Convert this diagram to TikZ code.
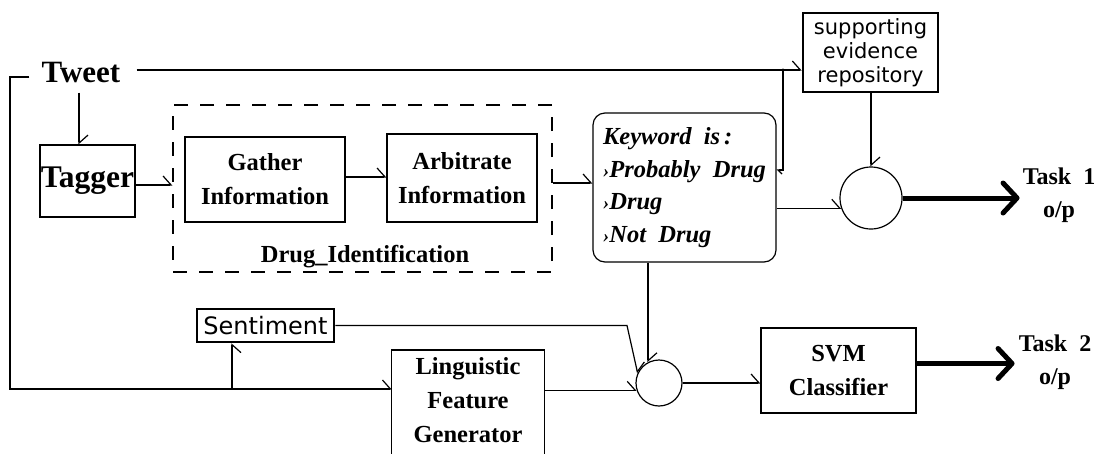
\documentclass[tikz,border=0pt]{standalone}
\usepackage{fontspec}
\setmainfont{Liberation Serif}
\newfontfamily\dvs{DejaVu Sans}
\usetikzlibrary{arrows.meta}
\newcommand\kwmark{{\fontsize{19}{19}\selectfont›}}
\begin{document}
\begin{tikzpicture}[x=1pt,y=-1pt,
  ln/.style={line width=1.2pt},
  ar/.style={ln,-{Straight Barb[harpoon,length=8pt,width=18pt,line width=1.2pt]}},
  ars/.style={ln,-{Straight Barb[harpoon,swap,length=8pt,width=18pt,line width=1.2pt]}},
  tk/.style={line width=2.6pt,-{Straight Barb[harpoon,length=8pt,width=18pt,line width=1.2pt]}},
  big/.style={line width=5pt,-{Straight Barb[length=14pt,width=30pt,line width=5pt,round]}},
  blk/.style={draw,ln,align=center,inner sep=0pt,font=\bfseries\fontsize{24.5}{34}\selectfont},
  sbox/.style={draw,line width=2.6pt,align=center,inner sep=0pt,font=\dvs\fontsize{21}{24}\selectfont},
  circ/.style={draw,ln,circle,inner sep=0pt},
  lbl/.style={align=center,inner sep=0pt,font=\bfseries\fontsize{24}{33}\selectfont}
]
\clip (0,0) rectangle (1099,453);
\fill[white] (0,0) rectangle (1099,453);

% nodes
\node[lbl,font=\bfseries\fontsize{31}{32}\selectfont] (tweet) at (81,72) {Tweet};
\node[blk,minimum width=95,minimum height=72,font=\bfseries\fontsize{31.5}{32}\selectfont] (tagger) at (87.5,181) {Tagger};
\node[draw,ln,dash pattern=on 14pt off 12pt,minimum width=379,minimum height=167,inner sep=0pt] (drugid) at (362.5,188.5) {};
\node[blk,minimum width=160,minimum height=85] (gather) at (265,179.5) {Gather\\Information};
\node[blk,minimum width=150,minimum height=88] (arb) at (462,178) {Arbitrate\\Information};
\node[lbl,font=\bfseries\fontsize{24.5}{26}\selectfont] (dlabel) at (365,257) {Drug\_Identification};
\node[draw,ln,rounded corners=12pt,minimum width=183,minimum height=149,align=left,inner sep=0pt,
      font=\bfseries\itshape\fontsize{24.5}{32.5}\selectfont] (kw) at (684.5,187.5)
      {Keyword~~is\,:\\\kwmark Probably~~Drug\\\kwmark Drug\\\kwmark Not~~Drug};
\node[sbox,minimum width=135,minimum height=79] (sup) at (870.5,52.5) {supporting\\evidence\\repository};
\node[circ,minimum size=62] (c1) at (871,198) {};
\node[lbl] (t1) at (1059,195) {Task~~1\\o/p};
\node[sbox,minimum width=137,minimum height=33,font=\dvs\fontsize{24}{26}\selectfont] (sent) at (265.5,325.5) {Sentiment};
\node[lbl,font=\bfseries\fontsize{24.5}{34}\selectfont,minimum width=152,minimum height=100,anchor=north] (ling) at (468,350) {Linguistic\\Feature\\Generator};
\draw[ln] ([yshift=-20pt]ling.south west) -- (ling.north west) -- (ling.north east) -- ([yshift=-20pt]ling.south east);
\node[circ,minimum size=46] (c2) at (659,383) {};
\node[blk,minimum width=155,minimum height=85] (svm) at (838.5,370.5) {SVM\\Classifier};
\node[lbl] (t2) at (1055,362) {Task~~2\\o/p};

% junction coordinates
\coordinate (jtop) at (783,70);
\coordinate (jl) at (10,389);
\coordinate (jsent) at (232,389);
\coordinate (jbend) at (627,325.5);

% connectors
\draw[ar] ([xshift=16pt,yshift=2pt]tweet.east) -- (sup.west |- jtop);
\draw[ar] ([xshift=-12pt,yshift=-5pt]tweet.west) -| (jl) -- (ling.west |- jl);
\draw[ars] (jsent) -- (sent.south -| jsent);
\draw[ar] ([xshift=-2pt,yshift=-10pt]tweet.south) -- ([xshift=-8.5pt]tagger.north);
\draw[tk] ([yshift=-4pt]tagger.east) -- ([yshift=-4pt]tagger.east -| drugid.west);
\draw[tk] ([yshift=2.5pt]gather.east) -- ([yshift=2.5pt]gather.east -| arb.west);
\draw[tk] ([yshift=5.5pt]drugid.east) -- ([yshift=5.5pt]drugid.east -| kw.west);
\draw[ln,{Straight Barb[harpoon,length=4pt,width=8pt]}-] ([yshift=17.5pt]kw.east) -| (jtop);
\fill (jtop) circle (1.6pt);
\draw[ar] (kw.east |- c1.199) -- (c1.199);
\draw[ar] (sup.south -| c1) -- (c1.north);
\draw[big] (c1.east) -- ([xshift=-3pt]c1.east -| t1.west);
\draw[ar] (kw.south -| c2.118) -- (c2.118);
\draw[ar] (sent.east) -- (jbend) -- (c2.155);
\draw[ar] (ling.east |- c2.198) -- (c2.198);
\draw[ar] (c2.east) -- (c2.east -| svm.west);
\draw[big] ([yshift=7pt]svm.east) -- ([xshift=-4pt,yshift=7pt]svm.east -| t2.west);
\end{tikzpicture}
\end{document}
